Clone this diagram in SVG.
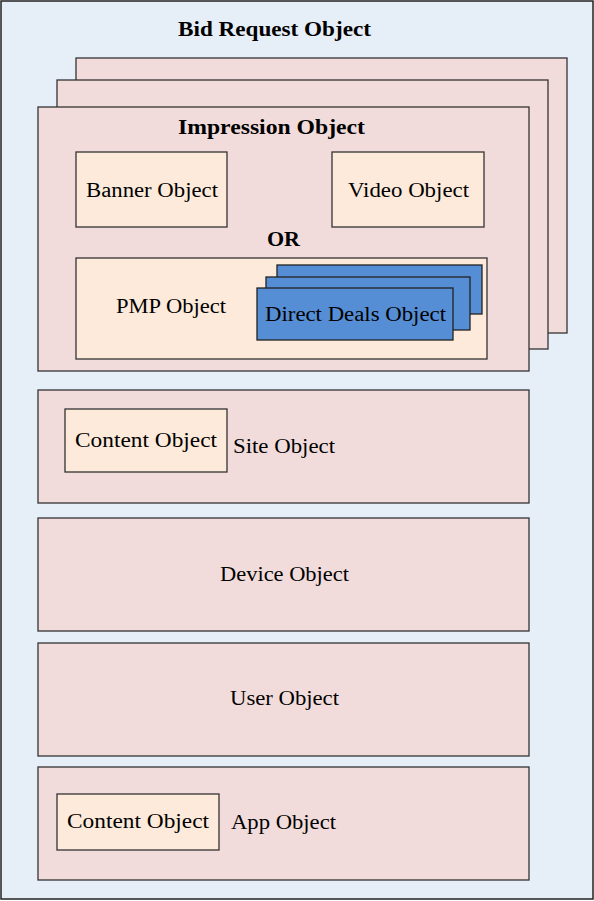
<svg xmlns="http://www.w3.org/2000/svg" width="594" height="901" viewBox="0 0 594 901">
<style>
text{font-family:"Liberation Serif","DejaVu Serif",serif;font-size:20px;fill:#000;}
.b{font-weight:bold;}
.pink{fill:#F2DCDB;stroke:#333;stroke-width:1.3;}
.peach{fill:#FDEADA;stroke:#333;stroke-width:1.3;}
.blue{fill:#558ED5;stroke:#222;stroke-width:1.3;}
</style>
<g id="bid-request">
<rect x="1" y="1" width="592" height="898" fill="#E6EEF8" stroke="#222" stroke-width="1.5"/>
<text x="178" y="36" class="b" textLength="193" lengthAdjust="spacingAndGlyphs">Bid Request Object</text>
</g>
<g id="impression-stack">
<rect class="pink" x="76" y="58" width="491" height="275"/>
<rect class="pink" x="57" y="80" width="491" height="269"/>
</g>
<g id="impression">
<rect class="pink" x="38" y="107" width="491" height="264"/>
<text x="178" y="134" class="b" textLength="187" lengthAdjust="spacingAndGlyphs">Impression Object</text>
</g>
<g id="banner">
<rect class="peach" x="76" y="152" width="151" height="75"/>
<text x="86" y="197" textLength="132" lengthAdjust="spacingAndGlyphs">Banner Object</text>
</g>
<g id="video">
<rect class="peach" x="332" y="152" width="152" height="75"/>
<text x="348" y="197" textLength="121" lengthAdjust="spacingAndGlyphs">Video Object</text>
</g>
<g id="or">
<text x="267" y="246" class="b" textLength="33" lengthAdjust="spacingAndGlyphs">OR</text>
</g>
<g id="pmp">
<rect class="peach" x="76" y="258" width="411" height="101"/>
<text x="116" y="313" textLength="110" lengthAdjust="spacingAndGlyphs">PMP Object</text>
</g>
<g id="direct-deals">
<rect class="blue" x="277" y="265" width="205" height="49"/>
<rect class="blue" x="266" y="277" width="204" height="53"/>
<rect class="blue" x="257" y="288" width="196" height="52"/>
<text x="265" y="321" textLength="181" lengthAdjust="spacingAndGlyphs">Direct Deals Object</text>
</g>
<g id="site">
<rect class="pink" x="38" y="390" width="491" height="113"/>
<text x="233" y="453" textLength="102" lengthAdjust="spacingAndGlyphs">Site Object</text>
</g>
<g id="site-content">
<rect class="peach" x="65" y="409" width="162" height="63"/>
<text x="75" y="447" textLength="142" lengthAdjust="spacingAndGlyphs">Content Object</text>
</g>
<g id="device">
<rect class="pink" x="38" y="518" width="491" height="113"/>
<text x="220" y="581" textLength="129" lengthAdjust="spacingAndGlyphs">Device Object</text>
</g>
<g id="user">
<rect class="pink" x="38" y="643" width="491" height="113"/>
<text x="230" y="705" textLength="109" lengthAdjust="spacingAndGlyphs">User Object</text>
</g>
<g id="app">
<rect class="pink" x="38" y="767" width="491" height="113"/>
<text x="231" y="829" textLength="105" lengthAdjust="spacingAndGlyphs">App Object</text>
</g>
<g id="app-content">
<rect class="peach" x="57" y="794" width="162" height="56"/>
<text x="67" y="828" textLength="142" lengthAdjust="spacingAndGlyphs">Content Object</text>
</g>
<g id="connectors"></g>
</svg>
